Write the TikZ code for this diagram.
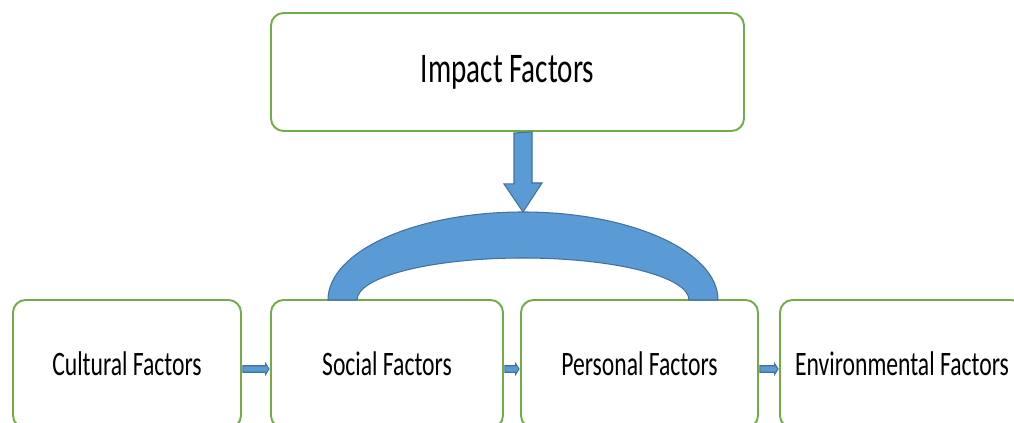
\documentclass[tikz,border=0pt]{standalone}
\usepackage{fontspec}
\setmainfont[FakeStretch=0.69]{Carlito}
\usepackage{tikz}
\usetikzlibrary{arrows.meta, positioning, calc}

\definecolor{boxgreen}{HTML}{70AD47}
\definecolor{arrowblue}{HTML}{5B9BD5}
\definecolor{arrowedge}{HTML}{41719C}

\begin{document}
\begin{tikzpicture}[
    box/.style={draw=boxgreen, line width=1.1pt, rounded corners=0.25cm, fill=white,
                minimum height=2.56cm, inner sep=0pt, align=center, font=\fontsize{19.5}{22}\selectfont},
    blk/.style={fill=arrowblue, draw=arrowedge, line width=0.6pt, line join=miter}
]
    \useasboundingbox (0,0) rectangle (20.28,8.46);
    \clip (0,0) rectangle (20.28,8.46);

    % Top level
    \node[box, minimum width=9.46cm, minimum height=2.36cm,
          font=\fontsize{24}{28}\selectfont] (impact) at (10.15, 7.02) {Impact Factors};

    % Chain of factors
    \node[box, minimum width=4.56cm] (cult) at (2.54, 1.18) {Cultural Factors};
    \node[box, minimum width=4.64cm] (soc) at (7.74, 1.18) {Social Factors};
    \node[box, minimum width=4.74cm] (pers) at (12.79, 1.18) {Personal Factors};
    \node[box, minimum width=4.88cm] (env) at (18.04, 1.18) {Environmental Factors};

    % Bow over social and personal
    \coordinate (arcbase) at (10.46, 2.46);
    \coordinate (arctop) at ($(arcbase)+(0,1.76)$);
    \draw[blk] ($(arcbase)+(-3.9,0)$) arc[start angle=180, end angle=0, x radius=3.9, y radius=1.76]
        -- ++(-0.58,0) arc[start angle=0, end angle=180, x radius=3.32, y radius=0.84] -- cycle;

    % Down arrow
    \draw[blk] ($(impact.south -| arctop)+(-0.18,-0.02)$) -- ++(0,-1.02) -- ++(-0.2,0) -- (arctop)
        -- ++(0.38,0.58) -- ++(-0.2,0) -- ++(0,1.02) -- cycle;

    % Small arrows along the chain
    \foreach \a/\b in {cult/soc, soc/pers, pers/env} {
        \draw[blk] ($(\a.east)+(0.02,-0.035)$) -- ($(\b.west)+(-0.09,-0.035)$) -- ++(0,0.045)
            -- ($(\b.west)+(-0.02,-0.1)$) -- ($(\b.west)+(-0.09,-0.21)$) -- ++(0,0.045)
            -- ($(\a.east)+(0.02,-0.165)$) -- cycle;
    }
\end{tikzpicture}
\end{document}
